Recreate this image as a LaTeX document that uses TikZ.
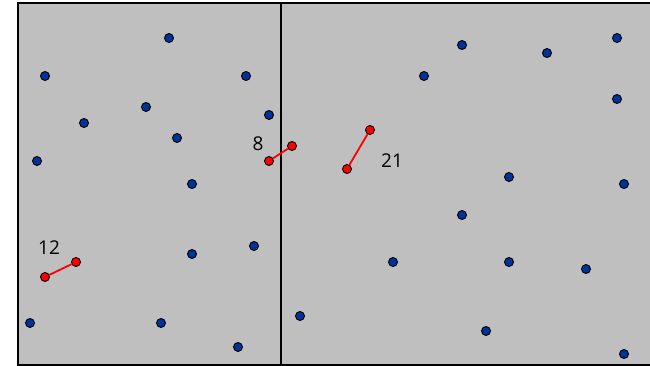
\documentclass[tikz,border=0pt]{standalone}
\usepackage{fontspec}
\setmainfont{Open Sans}
\begin{document}
\begin{tikzpicture}[x=1pt,y=-1pt,
  pt/.style={circle,draw=black,line width=0.9pt,fill={rgb,255:red,0;green,51;blue,153},inner sep=0pt,minimum size=9pt},
  rpt/.style={circle,draw=black,line width=0.9pt,fill=red,inner sep=0pt,minimum size=9pt},
  seg/.style={red,line width=1.8pt},
  lbl/.style={font=\fontsize{19}{19}\selectfont,inner sep=0pt}]
\useasboundingbox (0,0) rectangle (650,366);
\fill[gray!50] (18,3) rectangle (650,365);
\coordinate (tl) at (18,3);
\coordinate (tr) at (650,3);
\coordinate (bl) at (18,365);
\coordinate (br) at (650,365);
\coordinate (mt) at (281,3);
\coordinate (mb) at (281,365);
\draw[line width=2pt] (tr) -- (tl) -- (bl) -- (br);
\draw[line width=1.6pt] (mt) -- (mb);
% blue points
\foreach \x/\y [count=\i] in {169/38,45/76,246/76,146/107,84/123,269/115,177/138,37/161,192/184,192/254,254/246,30/323,161/323,238/347,
  462/45,547/53,617/38,424/76,617/99,509/177,624/184,462/215,393/262,509/262,586/269,300/316,486/331,624/354}
  \node[pt] (b\i) at (\x,\y) {};
% red pairs
\node[rpt] (r1a) at (269,161) {};
\node[rpt] (r1b) at (292,146) {};
\node[rpt] (r2a) at (347,169) {};
\node[rpt] (r2b) at (370,130) {};
\node[rpt] (r3a) at (45,277) {};
\node[rpt] (r3b) at (76,262) {};
\draw[seg] (r1a) -- (r1b);
\draw[seg] (r2a) -- (r2b);
\draw[seg] (r3a) -- (r3b);
\node[lbl] (l8) at (258,144) {8};
\node[lbl] (l21) at (392,161) {21};
\node[lbl] (l12) at (49,248) {12};
\end{tikzpicture}
\end{document}
